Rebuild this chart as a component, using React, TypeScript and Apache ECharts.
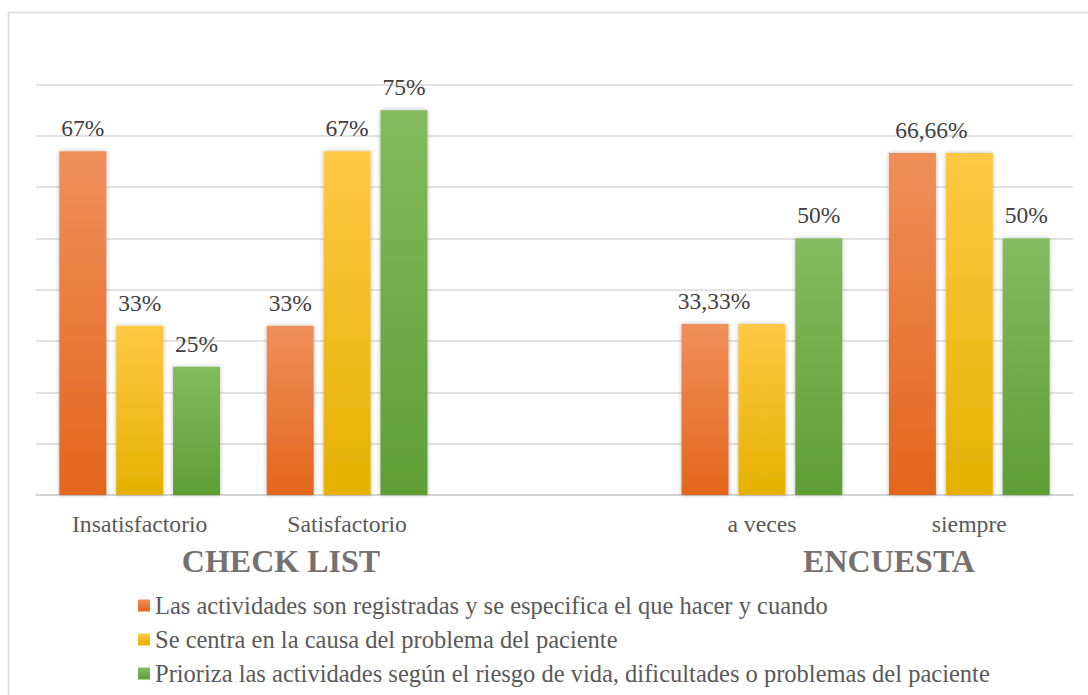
import React, { useEffect, useRef } from "react";
import * as echarts from "echarts";

const categories = ["Insatisfactorio", "Satisfactorio", "", "a veces", "siempre"];
const seriesNames = [
  "Las actividades son registradas y se especifica el que hacer y cuando",
  "Se centra en la causa del problema del paciente",
  "Prioriza las actividades según el riesgo de vida, dificultades o problemas del paciente",
];
const registradas = [67, 33, null, 33.33, 66.66];
const causa = [33, 67, null, 33.33, 66.66];
const prioriza = [25, 75, null, 50, 50];
const groupTitles = ["CHECK LIST", "ENCUESTA"];

// label shifts (px) for the shared labels over the encuesta pair bars
const labelShift = [0, 0, 0, 9, 19];
// the yellow bars in the encuesta share their label with the orange ones
const hideLabel = [false, false, false, true, true];

const SERIF = "'Liberation Serif', 'Times New Roman', serif";

const palettes = [
  ["#F08F5A", "#E3661D"],
  ["#FFC845", "#E6B000"],
  ["#84BB60", "#5E9E33"],
];

function fmt(v: number): string {
  if (Number.isInteger(v)) return `${v}%`;
  return `${v.toFixed(2).replace(".", ",")}%`;
}

function grad(c: string[]) {
  return new echarts.graphic.LinearGradient(0, 0, 0, 1, [
    { offset: 0, color: c[0] },
    { offset: 1, color: c[1] },
  ]);
}

export default function App() {
  const ref = useRef<HTMLDivElement>(null);

  useEffect(() => {
    if (!ref.current) return;
    const chart = echarts.init(ref.current, null, { renderer: "svg" });

    const makeSeries = (idx: number, values: (number | null)[], hide: boolean[]) => ({
      name: seriesNames[idx],
      type: "bar",
      barWidth: 47,
      barGap: "21%",
      itemStyle: {
        color: grad(palettes[idx]),
        shadowBlur: 4,
        shadowColor: "rgba(0,0,0,0.28)",
        shadowOffsetX: 0,
        shadowOffsetY: 0,
      },
      label: {
        show: true,
        position: "top",
        distance: 11,
        fontFamily: SERIF,
        fontSize: 23.5,
        color: "#404040",
        formatter: (p: any) => fmt(p.value),
      },
      data: values.map((v, i) => {
        if (v === null) return null;
        const item: any = { value: v };
        if (hide[i]) item.label = { show: false };
        else if (idx === 0 && labelShift[i]) item.label = { offset: [labelShift[i], 0] };
        return item;
      }),
    });

    chart.setOption({
      animation: false,
      textStyle: { fontFamily: SERIF },
      grid: { left: 36, right: 15, top: 84.5, bottom: 200 },
      legend: {
        orient: "vertical",
        left: 133,
        top: 588,
        itemWidth: 12,
        itemHeight: 12,
        itemGap: 9,
        icon: "rect",
        itemStyle: { shadowBlur: 0 },
        textStyle: { fontFamily: SERIF, fontSize: 24.5, color: "#595959" },
        data: seriesNames,
      },
      xAxis: {
        type: "category",
        data: categories,
        axisLine: { lineStyle: { color: "#D0D0D0", width: 1.5 } },
        axisTick: { show: false },
        axisLabel: { fontFamily: SERIF, fontSize: 23.7, color: "#595959", margin: 17 },
      },
      yAxis: {
        type: "value",
        min: 0,
        max: 80,
        interval: 10,
        axisLabel: { show: false },
        axisLine: { show: false },
        axisTick: { show: false },
        splitLine: { lineStyle: { color: "#D9D9D9", width: 1.5 } },
      },
      graphic: [
        {
          type: "rect",
          shape: { x: 8.5, y: 12.5, width: 1100, height: 700 },
          style: { fill: "none", stroke: "#D9D9D9", lineWidth: 1.5 },
          silent: true,
        },
        {
          type: "text",
          x: 281,
          y: 561,
          style: {
            text: groupTitles[0],
            font: `bold 32px ${SERIF}`,
            fill: "#767171",
            textAlign: "center",
            textVerticalAlign: "middle",
          },
        },
        {
          type: "text",
          x: 889,
          y: 561,
          style: {
            text: groupTitles[1],
            font: `bold 32px ${SERIF}`,
            fill: "#767171",
            textAlign: "center",
            textVerticalAlign: "middle",
          },
        },
      ],
      series: [
        makeSeries(0, registradas, [false, false, false, false, false]),
        makeSeries(1, causa, hideLabel),
        makeSeries(2, prioriza, [false, false, false, false, false]),
      ],
    });

    return () => chart.dispose();
  }, []);

  return (
    <div
      ref={ref}
      style={{ position: "fixed", left: 0, top: 0, width: 1088, height: 695, background: "#fff" }}
    />
  );
}
